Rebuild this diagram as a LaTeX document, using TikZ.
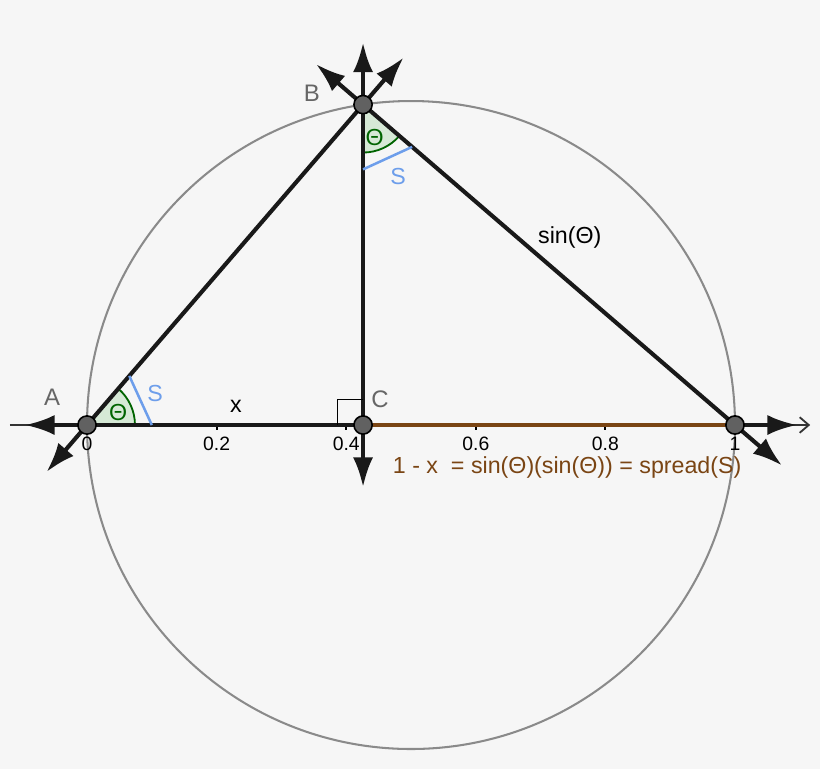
\documentclass[tikz,border=0pt]{standalone}
\usepackage{fontspec}
\setmainfont{Liberation Sans}
\usetikzlibrary{arrows.meta,calc}

\definecolor{bg}{HTML}{F6F6F6}
\definecolor{ptgray}{HTML}{616161}
\definecolor{labgray}{HTML}{666666}
\definecolor{circgray}{HTML}{8A8A8A}
\definecolor{angfill}{HTML}{D6E9D6}
\definecolor{angline}{HTML}{006400}
\definecolor{chordblue}{HTML}{6D9EEB}
\definecolor{brownish}{HTML}{7A4514}

\tikzstyle{pt}=[circle, draw=black, fill=ptgray, line width=0.7pt, inner sep=0pt, minimum size=8pt]
\tikzstyle{seg}=[line width=1.8pt, black!90]
\tikzstyle{ray}=[seg, {Latex[length=4.6mm,width=3.1mm]}-{Latex[length=4.6mm,width=3.1mm]}]
\tikzstyle{axis}=[line width=0.8pt, black!80, -{Straight Barb[length=1.4mm,width=2.4mm]}]
\tikzstyle{ptlabel}=[text=labgray, font=\fontsize{10.5}{12}\selectfont]
\tikzstyle{ticklabel}=[font=\fontsize{8.5}{10}\selectfont]
\tikzstyle{sector}=[fill=angfill, draw=angline, line width=0.8pt]
\tikzstyle{chord}=[draw=chordblue, line width=1.1pt]

\begin{document}
\begin{tikzpicture}[x=10cm, y=10cm, font=\fontsize{10.2}{12}\selectfont]
          \fill[bg] (-0.1343,-0.5309) rectangle (1.1312,0.6559);
          \useasboundingbox (-0.1343,-0.5309) rectangle (1.1312,0.6559);

          \coordinate (A) at (0,0);
          \coordinate (C) at (0.426,0);
          \coordinate (B) at (0.426,0.4945);
          \coordinate (D) at (1,0);
          \coordinate (O) at (0.5,0);

          % end points of the lines
          \coordinate (Aleft) at ($(A)!-0.96cm!(C)$);
          \coordinate (Dright) at ($(D)!-0.96cm!(C)$);
          \coordinate (Adown) at ($(A)!-0.96cm!(B)$);
          \coordinate (Bupright) at ($(B)!-0.96cm!(A)$);
          \coordinate (Bup) at ($(B)!-0.96cm!(C)$);
          \coordinate (Cdown) at ($(C)!-0.96cm!(B)$);
          \coordinate (Bupleft) at ($(B)!-0.96cm!(D)$);
          \coordinate (Ddown) at ($(D)!-0.96cm!(B)$);
          \coordinate (axleft) at (-0.119,0);
          \coordinate (axright) at (1.116,0);

          \draw[circgray, line width=0.9pt] (O) circle (0.5);

          \draw[axis] (axleft) -- (axright);
          \foreach \t in {0.2,0.4,0.6,0.8}
              \draw[line width=0.8pt] (\t,0) -- (\t,-0.008);
          \foreach \t/\n in {0/t0,0.2/t2,0.4/t4,0.6/t6,0.8/t8,1/t10}
              \node[ticklabel] (\n) at (\t,-0.029) {\t};

          % angle marks
          \draw[sector] (A) -- ++(0:0.074) arc[start angle=0, end angle=49.26, radius=0.074] -- cycle;
          \draw[sector] (B) -- ++(-90:0.074) arc[start angle=-90, end angle=-40.74, radius=0.074] -- cycle;

          \draw[ray] (Aleft) -- (Dright);
          \draw[ray] (Adown) -- (Bupright);
          \draw[ray] (Cdown) -- (Bup);
          \draw[ray] (Ddown) -- (Bupleft);
          \draw[brownish, line width=1.8pt] (C) -- (D);

          \draw (C) ++(-0.04,0) -- ++(0,0.04) -- ++(0.04,0);

          \draw[chord] ($(A)!1cm!(C)$) -- ($(A)!1cm!(B)$);
          \draw[chord] ($(B)!1cm!(C)$) -- ($(B)!1cm!(D)$);

          \node[text=angline] (thA) at (0.048,0.019) {Θ};
          \node[text=angline] (thB) at (0.444,0.444) {Θ};
          \node[text=chordblue] (sA) at (0.105,0.049) {S};
          \node[text=chordblue] (sB) at (0.480,0.383) {S};

          \node[pt] (Apt) at (A) {};
          \node[pt] (Bpt) at (B) {};
          \node[pt] (Cpt) at (C) {};
          \node[pt] (Dpt) at (D) {};

          \node[ptlabel] (Alab) at (-0.054,0.043) {A};
          \node[ptlabel] (Blab) at (0.347,0.512) {B};
          \node[ptlabel] (Clab) at (0.452,0.039) {C};
          \node (xlab) at (0.230,0.029) {x};
          \node (sinlab) at (0.745,0.289) {sin(Θ)};
          \node[text=brownish] (formula) at (0.741,-0.066) {1 - x~ = sin(Θ)(sin(Θ)) = spread(S)};
    \end{tikzpicture}
\end{document}
